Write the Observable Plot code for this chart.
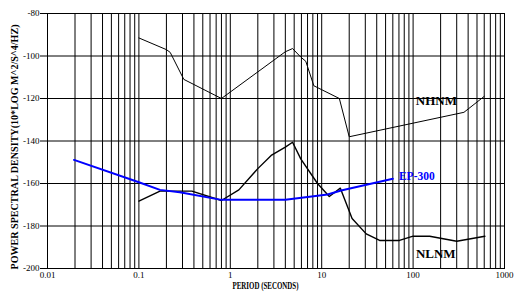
<!DOCTYPE html>
<html><head><meta charset="utf-8">
<script src="https://cdn.jsdelivr.net/npm/d3@7"></script>
<script src="https://cdn.jsdelivr.net/npm/@observablehq/plot@0.6"></script>
<style>
body{margin:0;background:#fff;}
#chart svg text{font-family:"Liberation Serif","Times New Roman",serif;}
</style></head><body><div id="chart"></div>
<script>
// Axis ticks
const xTicks = [0.01, 0.1, 1, 10, 100, 1000];
const xTickLabels = ["0.01", "0.1", "1", "10", "100", "1000"];
const xGrid = [0.01,0.02,0.03,0.04,0.05,0.06,0.07,0.08,0.09,
  0.1,0.2,0.3,0.4,0.5,0.6,0.7,0.8,0.9,
  1,2,3,4,5,6,7,8,9,
  10,20,30,40,50,60,70,80,90,
  100,200,300,400,500,600,700,800,900,1000];
const yTicks = [-200, -180, -160, -140, -120, -100, -80];

// NHNM (New High Noise Model)
const nhnmPeriod = [0.1, 0.2, 0.22, 0.31, 0.8, 4.0, 4.8, 5.9, 6.7, 8.2, 15.6, 20, 360, 600];
const nhnmPower  = [-91.5, -97, -98.3, -111, -120, -98, -96.5, -100.5, -102.5, -114, -120, -138, -126.5, -119];

// NLNM (New Low Noise Model)
const nlnmPeriod = [0.1, 0.17, 0.38, 0.8, 1.24, 2.0, 2.8, 4.0, 4.8, 5.9, 9.0, 12.1, 16, 21.5, 30.7, 43, 71, 100, 152, 300, 610];
const nlnmPower  = [-168.3, -163.6, -163.6, -168, -163, -153, -146.8, -142.9, -140.6, -148.4, -160, -166.1, -162.2, -176.5, -183.7, -186.8, -186.8, -184.8, -184.8, -187.2, -184.8];

// EP-300 self noise
const epPeriod = [0.0195, 0.1, 0.17, 0.28, 0.8, 4.0, 7.0, 11.6, 16.3, 60];
const epPower  = [-148.9, -159.4, -163, -164.1, -167.7, -167.7, -166.4, -165.2, -163.3, -157.8];

// Curve labels
const labelText   = ["NHNM", "NLNM", "EP-300"];
const labelPeriod = [180, 177, 70];
const labelPower  = [-121, -193, -156.6];

const xTitle = "PERIOD (SECONDS)";
const yTitle = "POWER SPECTRAL DENSITY(10*LOG M^2/S^4/HZ)";

const toRows = (xs, ys) => xs.map((x, i) => ({x, y: ys[i]}));
const nhnm = toRows(nhnmPeriod, nhnmPower);
const nlnm = toRows(nlnmPeriod, nlnmPower);
const ep = toRows(epPeriod, epPower);
const labels = labelText.map((t, i) => ({t, x: labelPeriod[i], y: labelPower[i]}));
const xLabelOf = d => xTickLabels[xTicks.findIndex(v => Math.abs(v - d) < 1e-9 * v)] ?? String(d);

const chart = Plot.plot({
  width: 517,
  height: 298,
  marginLeft: 47,
  marginRight: 13,
  marginTop: 13,
  marginBottom: 30,
  style: {background: "#fff", fontFamily: "Liberation Serif", fontSize: "9px", color: "black"},
  x: {type: "log", domain: [0.01, 1000]},
  y: {domain: [-200, -80]},
  marks: [
    Plot.ruleX(xGrid, {stroke: "black", strokeWidth: 1}),
    Plot.ruleY(yTicks, {stroke: "black", strokeWidth: 1}),
    Plot.frame({stroke: "black"}),
    Plot.axisY(yTicks, {tickSize: 7, tickPadding: 1, label: null, fontSize: 9, tickFormat: d => String(d)}),
    Plot.axisX(xTicks, {tickSize: 0, tickPadding: 3, label: null, fontSize: 9, tickFormat: xLabelOf}),
    Plot.line(nhnm, {x: "x", y: "y", stroke: "black", strokeWidth: 1}),
    Plot.line(nlnm, {x: "x", y: "y", stroke: "black", strokeWidth: 1.4}),
    Plot.line(ep, {x: "x", y: "y", stroke: "#0000ff", strokeWidth: 2}),
    Plot.text(labels.slice(0, 2), {x: "x", y: "y", text: "t", fontSize: 13, fontWeight: "bold", fill: "black", textAnchor: "middle"}),
    Plot.text(labels.slice(2), {x: "x", y: "y", text: "t", fontSize: 11.5, fontWeight: "bold", fill: "#0000ff", textAnchor: "start"}),
    Plot.text([xTitle], {frameAnchor: "bottom-left", dx: 185, dy: 17, text: d => d, fontSize: 10.5, fontWeight: "bold", fill: "black", textAnchor: "start", lineAnchor: "middle"}),
    Plot.text([yTitle], {frameAnchor: "bottom-left", dx: -33, dy: 1, rotate: -90, text: d => d, fontSize: 10.5, fontWeight: "bold", fill: "black", textAnchor: "start", lineAnchor: "middle"})
  ]
});
document.getElementById("chart").appendChild(chart);

// Condense titles to the reference's narrow bitmap font widths
chart.querySelectorAll("text").forEach(t => {
  if (t.textContent === xTitle) { t.setAttribute("textLength", 66); t.setAttribute("lengthAdjust", "spacingAndGlyphs"); }
  if (t.textContent === yTitle) { t.setAttribute("textLength", 245); t.setAttribute("lengthAdjust", "spacingAndGlyphs"); }
});
</script>
</body></html>
